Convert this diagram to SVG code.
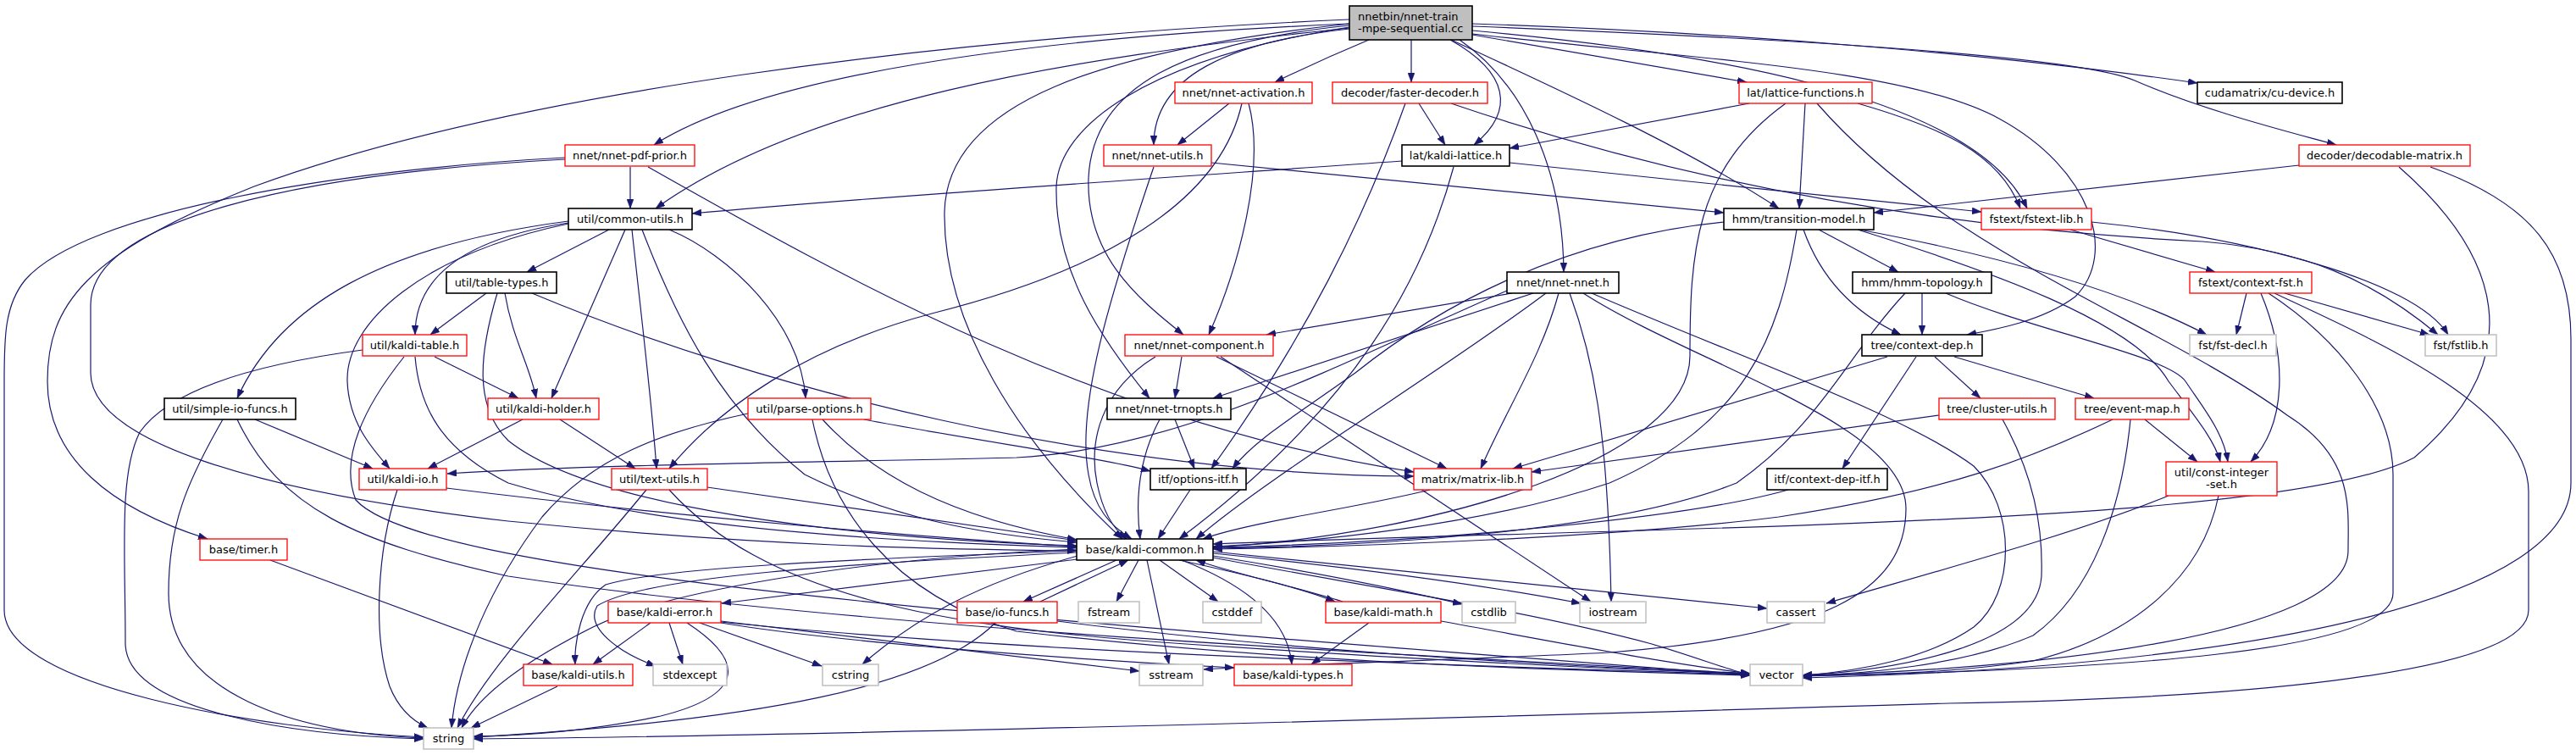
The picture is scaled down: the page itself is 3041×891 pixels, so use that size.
<svg xmlns="http://www.w3.org/2000/svg" width="3041" height="891" viewBox="0 0 3041 891">
<defs>
<style>
.node rect{fill:#ffffff;stroke-width:1.3}
.red rect{stroke:#ff0000}
.blk rect{stroke:#000000;stroke-width:1.6}
.gry rect{stroke:#bfbfbf;stroke-width:1.5}
.root rect{fill:#bfbfbf;stroke:#000000;stroke-width:1.6}
.node text{font-family:"DejaVu Sans","Liberation Sans",sans-serif;font-size:13px;fill:#000000;text-anchor:middle}
#edges path{fill:none;stroke:#191970;stroke-width:1.2;marker-end:url(#arr)}
</style>
<marker id="arr" markerUnits="userSpaceOnUse" markerWidth="11" markerHeight="8" viewBox="0 0 11 8" refX="11" refY="4" orient="auto">
<path d="M0,0 L11,4 L0,8 z" fill="#191970" stroke="#191970" stroke-width="0.5"/>
</marker>
</defs>
<rect x="0" y="0" width="3041" height="891" fill="#ffffff"/>
<g id="edges">
<path d="M1616,47 C1580,62 1540,80 1505,97"/>
<path d="M1666,47 L1666,97"/>
<path d="M1738,41 C1850,60 1960,80 2062,97"/>
<path d="M1738,28 C2100,40 2400,70 2594,98"/>
<path d="M1738,31 C2100,45 2450,65 2520,95 C2600,130 2700,155 2758,171"/>
<path d="M1738,36 C2000,60 2330,110 2393,246"/>
<path d="M1738,40 C2000,70 2250,80 2360,140 C2470,200 2500,300 2450,350 C2410,380 2350,390 2322,395"/>
<path d="M1713,47 C1850,110 2000,180 2100,246"/>
<path d="M1712,47 C1780,85 1790,130 1740,171"/>
<path d="M1723,47 C1800,100 1845,200 1846,321"/>
<path d="M1593,34 C1450,50 1362,90 1362,171"/>
<path d="M1593,30 C1400,50 1290,100 1285,210 C1282,300 1340,350 1397,395"/>
<path d="M1593,32 C1350,70 1250,150 1247,220 C1245,320 1300,400 1357,470"/>
<path d="M1593,28 C1200,45 900,90 772,171"/>
<path d="M1593,33 C1250,70 950,120 774,246"/>
<path d="M1593,23 C1100,45 600,110 300,220 C100,300 56,360 56,450 C56,540 130,600 245,636"/>
<path d="M1593,28 C1300,60 1118,120 1115,250 C1113,380 1200,520 1325,636"/>
<path d="M1451,122 L1390,171"/>
<path d="M1474,122 C1495,200 1460,320 1427,395"/>
<path d="M1466,122 C1440,240 1300,320 1100,370 C950,410 850,480 790,553"/>
<path d="M1675,122 L1706,171"/>
<path d="M1659,122 C1610,260 1540,400 1430,553"/>
<path d="M1713,122 C2000,220 2300,270 2600,285 C2720,295 2800,330 2878,395"/>
<path d="M2065,122 L1782,175"/>
<path d="M2131,122 L2124,246"/>
<path d="M2193,122 C2290,150 2360,180 2385,246"/>
<path d="M2108,122 C2000,200 1995,300 1995,420 C1995,540 1700,630 1432,646"/>
<path d="M2145,122 C2300,300 2550,380 2700,490 C2780,540 2772,600 2772,650 C2772,750 2400,790 2128,797"/>
<path d="M1655,190 C1300,215 1000,235 817,252"/>
<path d="M1782,192 L2339,250"/>
<path d="M1716,197 C1680,330 1600,480 1392,636"/>
<path d="M2714,195 L2212,251"/>
<path d="M2869,197 C2990,240 3035,300 3035,400 L3035,570 C3035,700 2700,785 2128,800"/>
<path d="M2832,197 C2950,300 2990,420 2850,540 C2700,620 2000,620 1432,642"/>
<path d="M744,197 L744,246"/>
<path d="M667,186 C400,200 100,250 30,330 C5,360 5,400 5,450 L5,720 C5,810 300,860 500,870"/>
<path d="M667,188 C350,205 107,260 107,360 L107,440 C107,520 300,580 600,615 C900,645 1100,648 1271,650"/>
<path d="M765,197 C1000,330 1300,500 1669,557"/>
<path d="M1430,192 L2035,251"/>
<path d="M1362,197 C1310,350 1270,480 1285,560 C1292,600 1310,620 1336,636"/>
<path d="M719,271 L622,321"/>
<path d="M671,263 C560,280 490,320 490,395"/>
<path d="M671,261 C450,290 330,360 280,470"/>
<path d="M671,264 C500,300 408,380 410,450 C412,500 440,530 460,553"/>
<path d="M738,271 L651,470"/>
<path d="M746,271 C760,400 770,480 775,553"/>
<path d="M790,271 C860,300 945,380 951,470"/>
<path d="M758,271 C800,380 850,480 950,560 C1050,610 1150,630 1271,640"/>
<path d="M574,346 L508,395"/>
<path d="M596,346 C605,400 625,430 633,470"/>
<path d="M587,346 C565,420 560,480 600,520 C700,600 1000,635 1271,644"/>
<path d="M628,346 C900,460 1300,560 1669,562"/>
<path d="M513,421 L612,470"/>
<path d="M428,413 C300,430 200,460 165,510 C140,560 148,650 148,760 C150,840 350,868 500,872"/>
<path d="M490,421 C495,480 520,530 600,570 C800,630 1100,640 1271,646"/>
<path d="M477,421 C430,480 400,540 420,590 C500,680 1200,730 2066,797"/>
<path d="M301,495 L440,553"/>
<path d="M263,495 C220,570 199,620 199,700 C199,820 350,865 500,871"/>
<path d="M280,495 C330,600 420,640 600,680 C1000,740 1600,770 2066,795"/>
<path d="M617,495 L505,553"/>
<path d="M661,495 L750,553"/>
<path d="M1020,495 C1150,520 1300,540 1358,556"/>
<path d="M971,495 C1030,560 1120,610 1271,637"/>
<path d="M883,488 C780,510 700,540 640,610 C580,690 540,780 533,859"/>
<path d="M959,495 C980,600 1050,700 1200,745 C1500,780 1800,790 2066,797"/>
<path d="M1387,495 L1410,553"/>
<path d="M1369,495 C1345,540 1340,590 1346,636"/>
<path d="M1405,578 L1367,636"/>
<path d="M1395,421 L1387,470"/>
<path d="M1364,421 C1300,460 1285,520 1295,570 C1302,605 1315,625 1330,636"/>
<path d="M1436,421 L1708,553"/>
<path d="M1441,421 L1878,710"/>
<path d="M1785,346 L1495,395"/>
<path d="M1810,346 L1432,470"/>
<path d="M1779,343 C1600,420 1400,530 1200,540 C1000,545 700,548 528,559"/>
<path d="M1840,346 C1820,420 1780,480 1748,553"/>
<path d="M1825,346 C1700,440 1500,560 1412,636"/>
<path d="M1853,346 C1880,420 1898,500 1902,710"/>
<path d="M1869,346 C2000,430 2250,500 2250,600 C2250,700 2150,750 1900,770 C1700,780 1500,785 1421,790"/>
<path d="M1879,346 C2050,420 2250,490 2330,550 C2380,600 2380,700 2330,740 C2280,775 2200,792 2128,797"/>
<path d="M2147,271 L2241,321"/>
<path d="M2129,271 C2150,330 2190,370 2244,395"/>
<path d="M2121,271 C2100,400 2060,500 1900,570 C1750,620 1550,640 1432,645"/>
<path d="M2035,262 C1850,280 1700,360 1600,440 C1530,490 1480,520 1455,553"/>
<path d="M2195,271 C2350,300 2500,340 2605,395"/>
<path d="M2193,271 C2350,320 2520,380 2560,450 C2590,490 2615,520 2621,545"/>
<path d="M2269,346 L2269,395"/>
<path d="M2249,346 C2180,420 2150,500 2050,570 C1900,630 1600,645 1432,647"/>
<path d="M2297,346 C2400,390 2560,420 2580,450 C2600,480 2625,510 2630,545"/>
<path d="M2228,421 L1786,553"/>
<path d="M2284,421 L2338,470"/>
<path d="M2307,421 L2472,470"/>
<path d="M2262,421 L2175,553"/>
<path d="M2469,262 C2650,280 2850,330 2890,395"/>
<path d="M2444,271 L2615,321"/>
<path d="M2652,346 L2640,395"/>
<path d="M2697,346 L2868,395"/>
<path d="M2669,346 C2700,420 2700,500 2657,545"/>
<path d="M2678,346 C2760,400 2825,480 2825,560 L2825,700 C2825,770 2500,790 2128,798"/>
<path d="M2685,346 C2800,400 2985,480 2985,580 L2985,720 C2985,800 2600,825 2300,830 C1800,845 1000,868 559,872"/>
<path d="M2289,490 L1808,557"/>
<path d="M2364,495 C2400,560 2412,620 2410,680 C2405,760 2250,790 2128,797"/>
<path d="M2532,495 L2594,545"/>
<path d="M2494,495 C2400,540 2300,580 2100,610 C1900,635 1600,645 1432,648"/>
<path d="M2515,495 C2505,600 2470,700 2400,750 C2320,785 2200,795 2128,798"/>
<path d="M2560,585 C2450,630 2300,670 2156,712"/>
<path d="M2619,585 C2600,680 2520,750 2400,780 C2300,795 2200,797 2128,797"/>
<path d="M2111,578 C2000,610 1700,640 1432,646"/>
<path d="M1688,578 C1600,600 1480,615 1420,636"/>
<path d="M527,576 C800,610 1100,635 1271,645"/>
<path d="M469,578 C445,650 440,750 460,810 C470,835 485,850 505,859"/>
<path d="M835,575 C1000,600 1150,620 1271,638"/>
<path d="M763,578 C680,680 580,780 540,859"/>
<path d="M790,578 C900,700 1100,740 1400,760 C1700,780 1900,790 2066,795"/>
<path d="M319,661 L652,784"/>
<path d="M1272,660 C1100,680 950,700 852,712"/>
<path d="M1318,661 L1208,710"/>
<path d="M1228,710 L1332,661"/>
<path d="M1344,661 L1318,710"/>
<path d="M1369,661 L1438,710"/>
<path d="M1392,661 C1480,680 1540,695 1576,710"/>
<path d="M1585,710 C1520,690 1450,675 1412,661"/>
<path d="M1395,661 C1470,690 1520,730 1525,784"/>
<path d="M1354,661 L1380,784"/>
<path d="M1272,656 C1150,690 1080,730 1018,784"/>
<path d="M1432,656 C1550,675 1650,695 1726,713"/>
<path d="M1432,653 C1600,670 1750,690 1866,712"/>
<path d="M1432,651 C1700,680 1900,700 2086,718"/>
<path d="M1432,658 C1600,690 1800,720 1950,760 C2000,775 2040,790 2066,797"/>
<path d="M1271,648 C1000,660 780,700 700,740 C600,790 560,830 545,859"/>
<path d="M1271,650 C1000,660 780,670 715,690 C685,710 678,760 679,784"/>
<path d="M1271,652 C1000,665 760,680 705,715 C690,740 730,770 774,786"/>
<path d="M768,735 L700,784"/>
<path d="M790,735 L806,784"/>
<path d="M826,735 L970,786"/>
<path d="M851,733 L1345,792"/>
<path d="M811,735 C880,780 880,820 780,845 C700,862 620,868 559,869"/>
<path d="M851,735 C1000,760 1300,780 1457,788"/>
<path d="M851,734 C1200,770 1700,785 2066,796"/>
<path d="M1175,735 C1100,810 900,850 559,870"/>
<path d="M1248,733 C1500,765 1800,785 2066,795"/>
<path d="M1616,735 L1548,784"/>
<path d="M1701,733 C1850,760 1950,780 2066,795"/>
<path d="M658,810 L556,859"/>
</g>
<g id="n-root" class="node root"><rect x="1593" y="7" width="145" height="40"/><text x="1603" y="23.5" style="text-anchor:start">nnetbin/nnet-train</text><text x="1603" y="37.5" style="text-anchor:start">-mpe-sequential.cc</text></g>
<g id="n-act" class="node red"><rect x="1387" y="97" width="162" height="25"/><text x="1468" y="114">nnet/nnet-activation.h</text></g>
<g id="n-fd" class="node red"><rect x="1573" y="97" width="183" height="25"/><text x="1664.5" y="114">decoder/faster-decoder.h</text></g>
<g id="n-lf" class="node red"><rect x="2053" y="97" width="157" height="25"/><text x="2131.5" y="114">lat/lattice-functions.h</text></g>
<g id="n-cud" class="node blk"><rect x="2594" y="97" width="171" height="25"/><text x="2679.5" y="114">cudamatrix/cu-device.h</text></g>
<g id="n-pp" class="node red"><rect x="667" y="171" width="153" height="25"/><text x="743.5" y="188">nnet/nnet-pdf-prior.h</text></g>
<g id="n-nu" class="node red"><rect x="1303" y="171" width="127" height="25"/><text x="1366.5" y="188">nnet/nnet-utils.h</text></g>
<g id="n-kl" class="node blk"><rect x="1655" y="171" width="127" height="25"/><text x="1718.5" y="188">lat/kaldi-lattice.h</text></g>
<g id="n-dm" class="node red"><rect x="2714" y="171" width="202" height="25"/><text x="2815" y="188">decoder/decodable-matrix.h</text></g>
<g id="n-cu" class="node blk"><rect x="671" y="246" width="146" height="25"/><text x="744" y="263">util/common-utils.h</text></g>
<g id="n-tm" class="node blk"><rect x="2035" y="246" width="177" height="25"/><text x="2123.5" y="263">hmm/transition-model.h</text></g>
<g id="n-fl" class="node red"><rect x="2339" y="246" width="130" height="25"/><text x="2404" y="263">fstext/fstext-lib.h</text></g>
<g id="n-tt" class="node blk"><rect x="527" y="321" width="130" height="25"/><text x="592" y="338">util/table-types.h</text></g>
<g id="n-nn" class="node blk"><rect x="1779" y="321" width="132" height="25"/><text x="1845" y="338">nnet/nnet-nnet.h</text></g>
<g id="n-ht" class="node blk"><rect x="2187" y="321" width="164" height="25"/><text x="2269" y="338">hmm/hmm-topology.h</text></g>
<g id="n-cf" class="node red"><rect x="2585" y="321" width="144" height="25"/><text x="2657" y="338">fstext/context-fst.h</text></g>
<g id="n-kt" class="node red"><rect x="428" y="395" width="123" height="25"/><text x="489.5" y="412">util/kaldi-table.h</text></g>
<g id="n-nc" class="node red"><rect x="1328" y="395" width="175" height="25"/><text x="1415.5" y="412">nnet/nnet-component.h</text></g>
<g id="n-cd" class="node blk"><rect x="2198" y="395" width="142" height="25"/><text x="2269" y="412">tree/context-dep.h</text></g>
<g id="n-fdecl" class="node gry"><rect x="2585" y="395" width="102" height="25"/><text x="2636" y="412">fst/fst-decl.h</text></g>
<g id="n-fstlib" class="node gry"><rect x="2863" y="395" width="84" height="25"/><text x="2905" y="412">fst/fstlib.h</text></g>
<g id="n-si" class="node blk"><rect x="194" y="470" width="155" height="25"/><text x="271.5" y="487">util/simple-io-funcs.h</text></g>
<g id="n-kh" class="node red"><rect x="576" y="470" width="131" height="25"/><text x="641.5" y="487">util/kaldi-holder.h</text></g>
<g id="n-po" class="node red"><rect x="883" y="470" width="145" height="25"/><text x="955.5" y="487">util/parse-options.h</text></g>
<g id="n-tr" class="node blk"><rect x="1307" y="470" width="146" height="25"/><text x="1380" y="487">nnet/nnet-trnopts.h</text></g>
<g id="n-cl" class="node red"><rect x="2289" y="470" width="137" height="25"/><text x="2357.5" y="487">tree/cluster-utils.h</text></g>
<g id="n-em" class="node red"><rect x="2450" y="470" width="134" height="25"/><text x="2517" y="487">tree/event-map.h</text></g>
<g id="n-kio" class="node red"><rect x="424" y="553" width="103" height="25"/><text x="475.5" y="570">util/kaldi-io.h</text></g>
<g id="n-tu" class="node red"><rect x="722" y="553" width="113" height="25"/><text x="778.5" y="570">util/text-utils.h</text></g>
<g id="n-oi" class="node blk"><rect x="1358" y="553" width="113" height="25"/><text x="1414.5" y="570">itf/options-itf.h</text></g>
<g id="n-ml" class="node red"><rect x="1669" y="553" width="139" height="25"/><text x="1738.5" y="570">matrix/matrix-lib.h</text></g>
<g id="n-cdi" class="node blk"><rect x="2086" y="553" width="142" height="25"/><text x="2157" y="570">itf/context-dep-itf.h</text></g>
<g id="n-cis" class="node red"><rect x="2557" y="545" width="131" height="40"/><text x="2622.5" y="562">util/const-integer</text><text x="2622.5" y="576">-set.h</text></g>
<g id="n-ti" class="node red"><rect x="236" y="636" width="103" height="25"/><text x="287.5" y="653">base/timer.h</text></g>
<g id="n-kc" class="node blk"><rect x="1271" y="636" width="161" height="25"/><text x="1351.5" y="653">base/kaldi-common.h</text></g>
<g id="n-ke" class="node red"><rect x="718" y="710" width="133" height="25"/><text x="784.5" y="727">base/kaldi-error.h</text></g>
<g id="n-io" class="node red"><rect x="1130" y="710" width="118" height="25"/><text x="1189" y="727">base/io-funcs.h</text></g>
<g id="n-fs" class="node gry"><rect x="1273" y="710" width="72" height="25"/><text x="1309" y="727">fstream</text></g>
<g id="n-cdd" class="node gry"><rect x="1420" y="710" width="69" height="25"/><text x="1454.5" y="727">cstddef</text></g>
<g id="n-km" class="node red"><rect x="1565" y="710" width="136" height="25"/><text x="1633" y="727">base/kaldi-math.h</text></g>
<g id="n-csl" class="node gry"><rect x="1726" y="710" width="63" height="25"/><text x="1757.5" y="727">cstdlib</text></g>
<g id="n-ios" class="node gry"><rect x="1865" y="710" width="78" height="25"/><text x="1904" y="727">iostream</text></g>
<g id="n-cas" class="node gry"><rect x="2086" y="710" width="68" height="25"/><text x="2120" y="727">cassert</text></g>
<g id="n-ku" class="node red"><rect x="618" y="784" width="129" height="25"/><text x="682.5" y="801">base/kaldi-utils.h</text></g>
<g id="n-sx" class="node gry"><rect x="771" y="784" width="87" height="25"/><text x="814.5" y="801">stdexcept</text></g>
<g id="n-cst" class="node gry"><rect x="971" y="784" width="66" height="25"/><text x="1004" y="801">cstring</text></g>
<g id="n-ss" class="node gry"><rect x="1345" y="784" width="75" height="25"/><text x="1382.5" y="801">sstream</text></g>
<g id="n-kty" class="node red"><rect x="1457" y="784" width="139" height="25"/><text x="1526.5" y="801">base/kaldi-types.h</text></g>
<g id="n-vec" class="node gry"><rect x="2066" y="784" width="62" height="25"/><text x="2097" y="801">vector</text></g>
<g id="n-str" class="node gry"><rect x="500" y="859" width="59" height="25"/><text x="529.5" y="876">string</text></g>
</svg>
